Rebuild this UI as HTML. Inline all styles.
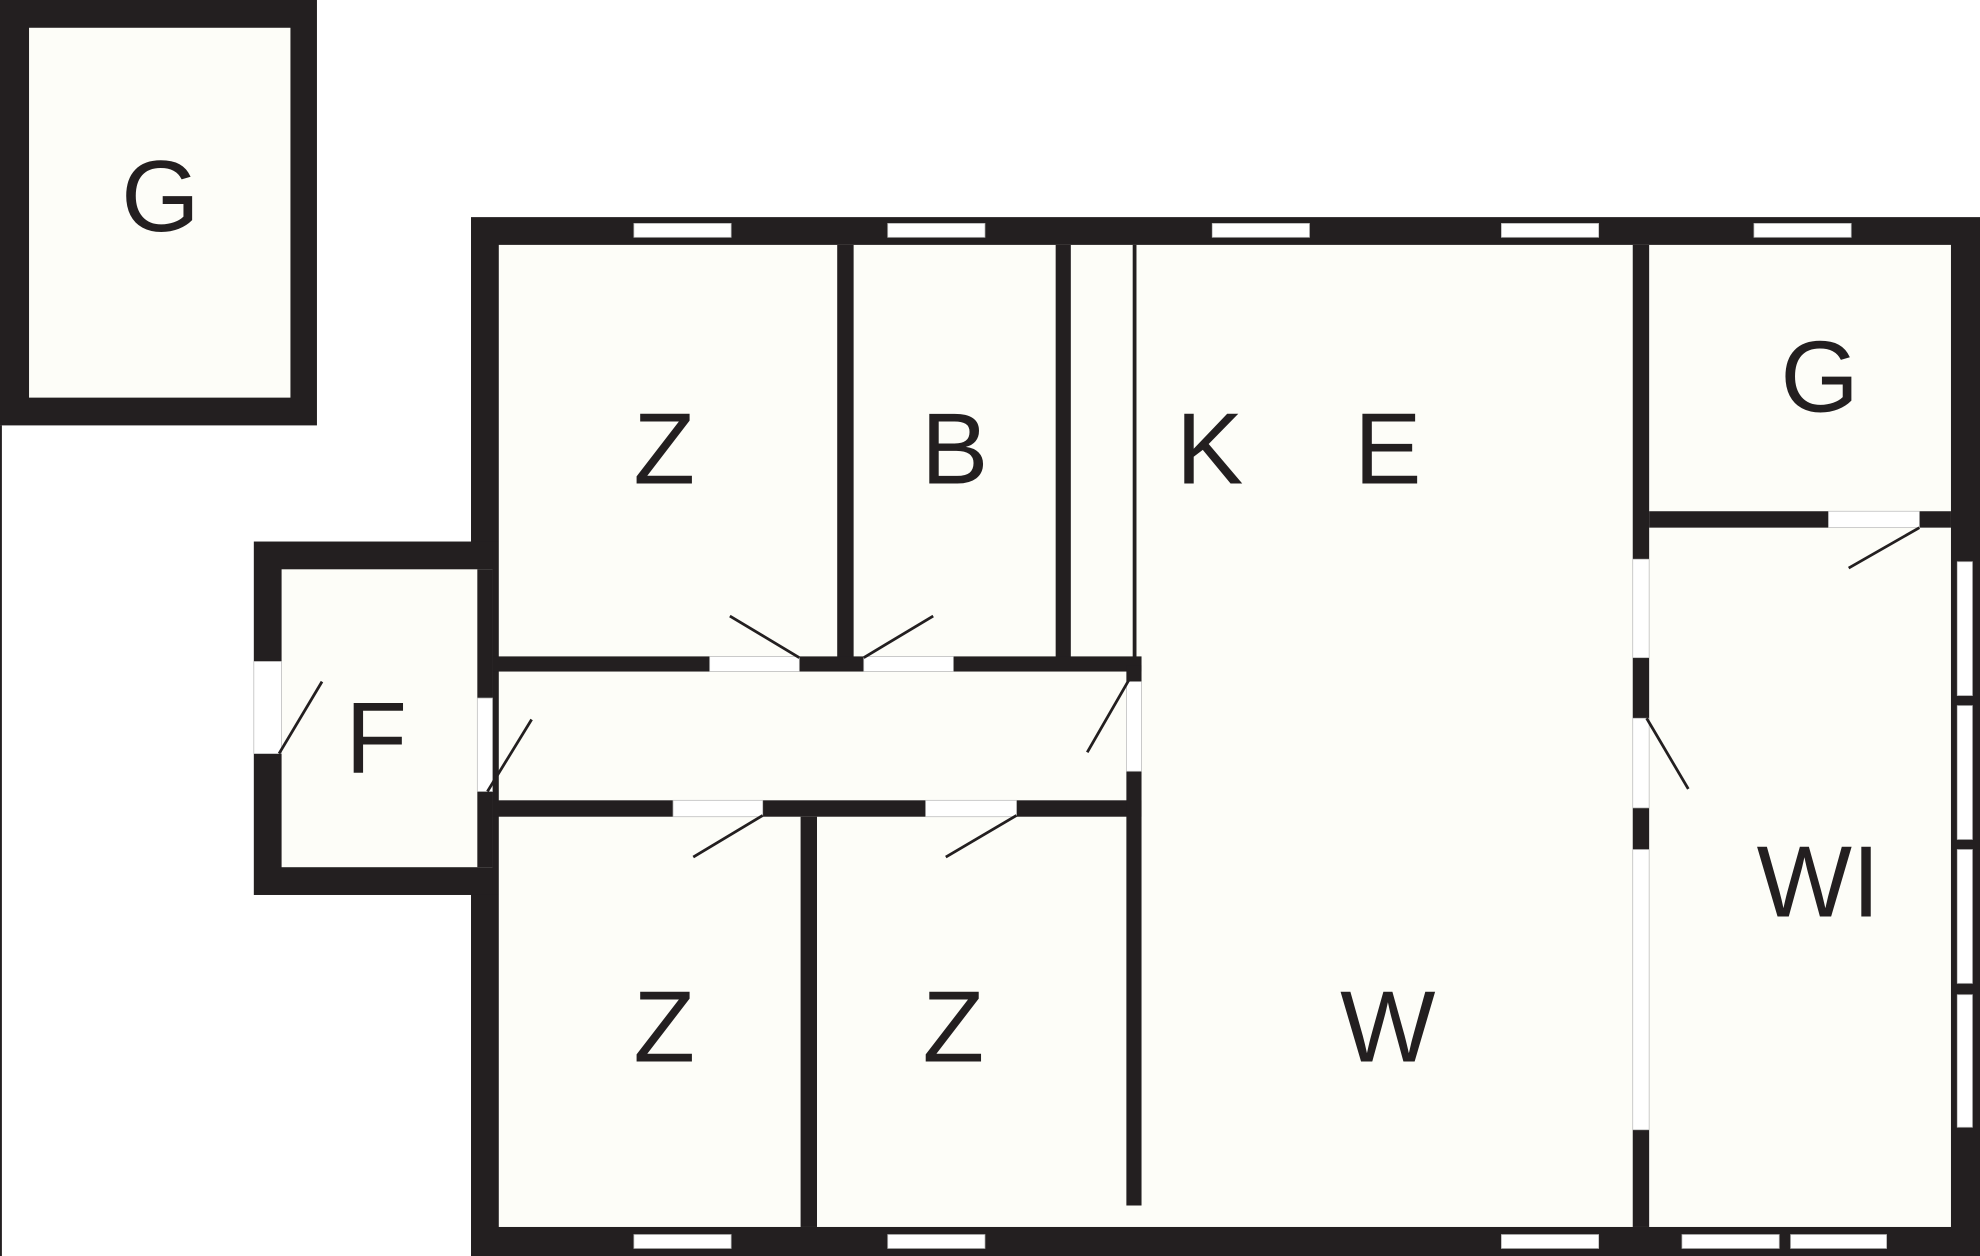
<!DOCTYPE html>
<html><head><meta charset="utf-8"><style>html,body{margin:0;padding:0;background:#fff}svg{display:block}</style></head><body>
<svg width="1980" height="1256" viewBox="0 0 1568 995" preserveAspectRatio="none" xmlns="http://www.w3.org/2000/svg">
<rect width="1568" height="995" fill="#fff"/>
<g fill="#231f20">
<rect x="0" y="0" width="251" height="337"/>
<rect x="0" y="337" width="1.5" height="658"/>
<rect x="373" y="172" width="1195" height="823"/>
<rect x="201" y="429" width="194" height="280"/>
</g>
<g fill="#fdfdf8">
<rect x="23" y="22" width="207" height="293"/>
<rect x="395" y="194" width="1150" height="778"/>
<rect x="223" y="451" width="167" height="236"/>
</g>
<g fill="#231f20">
<rect x="378" y="451" width="12" height="236"/>
<rect x="663" y="194" width="13" height="327"/>
<rect x="836" y="194" width="12" height="327"/>
<rect x="897" y="194" width="3" height="327"/>
<rect x="390" y="520" width="514" height="12"/>
<rect x="390" y="634" width="514" height="13"/>
<rect x="892" y="527" width="12" height="428"/>
<rect x="634" y="647" width="13" height="325"/>
<rect x="1293" y="194" width="13" height="778"/>
<rect x="1306" y="405" width="239" height="13"/>
</g>
<g fill="#fff" stroke="#bbb" stroke-width="0.6">
<rect x="502" y="177" width="77" height="11"/><rect x="703" y="177" width="77" height="11"/><rect x="960" y="177" width="77" height="11"/><rect x="1189" y="177" width="77" height="11"/><rect x="1389" y="177" width="77" height="11"/>
<rect x="502" y="978" width="77" height="11"/><rect x="703" y="978" width="77" height="11"/><rect x="1189" y="978" width="77" height="11"/><rect x="1332" y="978" width="77" height="11"/><rect x="1418" y="978" width="76" height="11"/>
<rect x="1550" y="445" width="12" height="106"/><rect x="1550" y="559" width="12" height="106"/><rect x="1550" y="673" width="12" height="106"/><rect x="1550" y="788" width="12" height="105"/>
<rect x="201" y="524" width="22" height="73"/>
<rect x="378" y="553" width="12" height="74"/>
<rect x="562" y="520" width="71" height="12"/>
<rect x="684" y="520" width="71" height="12"/>
<rect x="533" y="634" width="71" height="13"/>
<rect x="733" y="634" width="72" height="13"/>
<rect x="892" y="540" width="12" height="71"/>
<rect x="1293" y="443" width="13" height="78"/>
<rect x="1293" y="569" width="13" height="71"/>
<rect x="1293" y="673" width="13" height="222"/>
<rect x="1448" y="405" width="72" height="13"/>
</g>
<g stroke="#231f20" stroke-width="2.2">
<line x1="221" y1="597" x2="255" y2="540"/>
<line x1="386" y1="627" x2="421" y2="570"/>
<line x1="633" y1="521" x2="578" y2="488"/>
<line x1="684" y1="521" x2="739" y2="488"/>
<line x1="895" y1="537" x2="861" y2="596"/>
<line x1="604" y1="646" x2="549" y2="679"/>
<line x1="805" y1="646" x2="749" y2="679"/>
<line x1="1304" y1="569" x2="1337" y2="625"/>
<line x1="1520" y1="418" x2="1464" y2="450"/>
</g>
<g fill="#231f20" font-family="Liberation Sans, sans-serif" font-size="80" text-anchor="middle">
<text x="127" y="183">G</text>
<text x="526" y="383">Z</text>
<text x="756" y="383">B</text>
<text x="958" y="383">K</text>
<text x="1099" y="383">E</text>
<text x="1441" y="326">G</text>
<text x="298" y="612">F</text>
<text x="526" y="841">Z</text>
<text x="755" y="841">Z</text>
<text x="1099" y="841">W</text>
<text x="1440" y="726">WI</text>
</g>
</svg>
</body></html>
